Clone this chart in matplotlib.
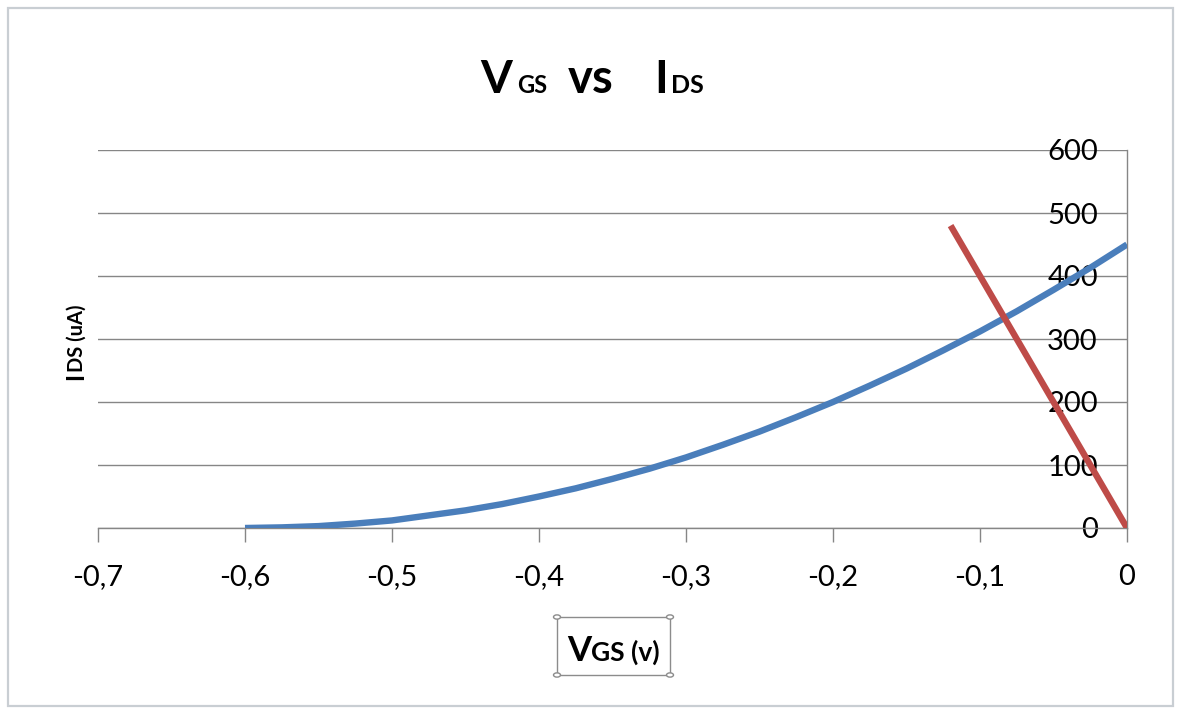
import matplotlib
matplotlib.use("Agg")
import matplotlib.pyplot as plt
from matplotlib.patches import Rectangle, Circle
from matplotlib.ticker import FuncFormatter

# ---- data ----
vgs_curve = [-0.600, -0.575, -0.550, -0.525, -0.500, -0.475, -0.450, -0.425, -0.400,
             -0.375, -0.350, -0.325, -0.300, -0.275, -0.250, -0.225, -0.200,
             -0.175, -0.150, -0.125, -0.100, -0.075, -0.050, -0.025, 0.000]
ids_curve = [0, 1, 3, 7, 12, 20, 28, 38, 50,
             63, 78, 94, 112, 132, 153, 176, 200,
             226, 253, 282, 312, 344, 378, 413, 450]
vgs_load = [-0.12, 0.00]
ids_load = [480, 0]
x_ticks = [-0.7, -0.6, -0.5, -0.4, -0.3, -0.2, -0.1, 0.0]
y_ticks = [0, 100, 200, 300, 400, 500, 600]

W, H = 1181, 713
FONT = "Lato"
plt.rcParams['font.family'] = [FONT, 'DejaVu Sans']

fig = plt.figure(figsize=(W / 100, H / 100), dpi=100)
fig.patch.set_facecolor("white")

def px(x, y):
    return x / W, 1 - y / H

# chart area frame
fig.patches.append(Rectangle(px(8, 706), (1173 - 8) / W, (706 - 8) / H,
                             transform=fig.transFigure, fill=False,
                             edgecolor="#c9ced3", linewidth=1.6))

left, right, top, bottom = 98, 1127, 150, 528
ax = fig.add_axes([left / W, 1 - bottom / H, (right - left) / W, (bottom - top) / H])

ax.plot(vgs_curve, ids_curve, color="#4A7EBB", linewidth=4.6, solid_capstyle="butt",
        solid_joinstyle="round", zorder=3)
ax.plot(vgs_load, ids_load, color="#BE4B48", linewidth=4.6, solid_capstyle="butt", zorder=4)

ax.set_xlim(-0.7, 0.0)
ax.set_ylim(0, 600)
ax.set_xticks(x_ticks)
ax.set_yticks(y_ticks)

def xfmt(v, p):
    if abs(v) < 1e-9:
        return "0"
    return ("%.1f" % v).replace(".", ",")

ax.xaxis.set_major_formatter(FuncFormatter(xfmt))
ax.yaxis.set_major_formatter(FuncFormatter(lambda v, p: "%d" % v))

ax.grid(axis="y", color="#868686", linewidth=1.0)
ax.set_axisbelow(True)
for s in ["top", "right"]:
    ax.spines[s].set_visible(False)
ax.spines["left"].set_position(("data", 0))
for s in ["left", "bottom"]:
    ax.spines[s].set_color("#868686")
    ax.spines[s].set_linewidth(1.0)
ax.tick_params(axis="x", direction="out", length=10, width=1.0, color="#868686",
               pad=16, labelsize=21, labelcolor="black")
ax.tick_params(axis="y", length=0, pad=21, labelsize=21, labelcolor="black")
ax.patch.set_alpha(0)

# ---- title: V_GS vs I_DS ----
base = 93
tkw = dict(transform=fig.transFigure, ha="left", va="baseline", fontweight="bold", color="black")
fig.text(*px(480, base), "V", fontsize=33, **tkw)
fig.text(*px(517, base), "GS", fontsize=17, **tkw)
fig.text(*px(568, base), "vs", fontsize=34, **tkw)
fig.text(*px(654, base), "I", fontsize=33, **tkw)
fig.text(*px(671, base), "DS", fontsize=18, **tkw)

# ---- y label ----
ykw = dict(transform=fig.transFigure, ha="left", va="baseline", rotation=90,
           rotation_mode="anchor", fontweight="bold", color="black")
fig.text(*px(83, 380), "I", fontsize=17, **ykw)
fig.text(*px(83, 372), "DS (uA)", fontsize=14.5, **ykw)

# ---- x label with selection box ----
x0, y0, x1, y1 = 557, 617, 670, 675
fig.patches.append(Rectangle(px(x0, y1), (x1 - x0) / W, (y1 - y0) / H,
                             transform=fig.transFigure, fill=False,
                             edgecolor="#8c8c8c", linewidth=1.0))
for cx, cy in [(x0, y0), (x1, y0), (x0, y1), (x1, y1)]:
    fig.patches.append(Circle(px(cx, cy), 3.5 / W, transform=fig.transFigure,
                              facecolor="white", edgecolor="#8c8c8c", linewidth=1.0))
xkw = dict(transform=fig.transFigure, ha="left", va="baseline", fontweight="bold", color="black")
fig.text(*px(567, 661), "V", fontsize=25, **xkw)
fig.text(*px(591, 661), "GS (v)", fontsize=19, **xkw)

fig.savefig("out.png", dpi=100)
